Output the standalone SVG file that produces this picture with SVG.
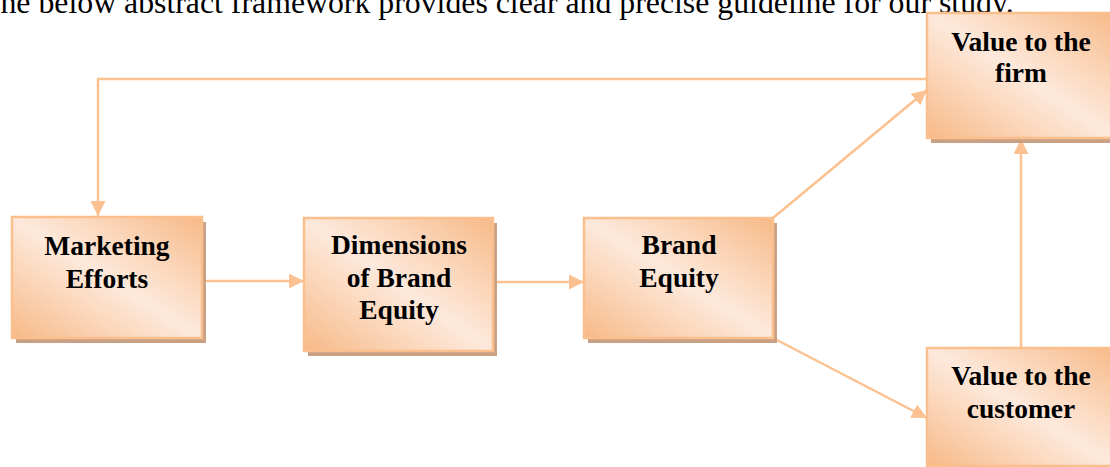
<svg xmlns="http://www.w3.org/2000/svg" width="1110" height="467" viewBox="0 0 1110 467">
  <style>
    .box { fill: url(#peach); stroke: #fbbf8e; stroke-width: 2.5; }
    .shadow { fill: #c9a083; }
    .label { font-family: "Liberation Serif", "Times New Roman", serif; font-weight: bold; font-size: 27.5px; fill: #000; text-anchor: middle; }
    .intro { font-family: "Liberation Serif", "Times New Roman", serif; font-size: 31.8px; fill: #000; }
    .link { fill: none; stroke: #fbc190; stroke-width: 2.5; marker-end: url(#head); }
  </style>
  <defs>
    <linearGradient id="peach" x1="1" y1="0" x2="0" y2="1">
      <stop offset="0" stop-color="#f7b987"/>
      <stop offset="0.3" stop-color="#fbd7bb"/>
      <stop offset="0.5" stop-color="#fde9dc"/>
      <stop offset="0.7" stop-color="#fbd7bb"/>
      <stop offset="1" stop-color="#f7b987"/>
    </linearGradient>
    <marker id="head" markerUnits="userSpaceOnUse" markerWidth="15" markerHeight="15" refX="15" refY="7.5" orient="auto">
      <path d="M0,0 L15,7.5 L0,15 z" fill="#fbc190"/>
    </marker>
  </defs>

  <text class="intro" x="-19" y="13">The below abstract framework provides clear and precise guideline for our study.</text>

  <g id="connectors">
    <line class="link" x1="202" y1="281" x2="304" y2="281"/>
    <line class="link" x1="493" y1="282" x2="584" y2="282"/>
    <line class="link" x1="773" y1="218" x2="927" y2="90"/>
    <line class="link" x1="773" y1="338" x2="927" y2="418"/>
    <line class="link" x1="1021" y1="348" x2="1021" y2="139"/>
    <polyline class="link" points="927,79 98,79 98,216"/>
  </g>

  <g id="marketing-efforts">
    <rect class="shadow" x="16" y="222" width="190" height="121"/>
    <rect class="box" x="12" y="217" width="190" height="121"/>
    <text class="label" x="107" y="255">Marketing</text>
    <text class="label" x="107" y="288">Efforts</text>
  </g>

  <g id="dimensions-of-brand-equity">
    <rect class="shadow" x="308" y="223" width="189" height="133"/>
    <rect class="box" x="304" y="218" width="189" height="133"/>
    <text class="label" x="399" y="254">Dimensions</text>
    <text class="label" x="399" y="287">of Brand</text>
    <text class="label" x="399" y="319">Equity</text>
  </g>

  <g id="brand-equity">
    <rect class="shadow" x="588" y="223" width="189" height="120"/>
    <rect class="box" x="584" y="218" width="189" height="120"/>
    <text class="label" x="679" y="254">Brand</text>
    <text class="label" x="679" y="287">Equity</text>
  </g>

  <g id="value-to-firm">
    <rect class="shadow" x="931" y="18" width="189" height="125"/>
    <rect class="box" x="927" y="13" width="189" height="125"/>
    <text class="label" x="1021" y="51">Value to the</text>
    <text class="label" x="1021" y="82">firm</text>
  </g>

  <g id="value-to-customer">
    <rect class="shadow" x="931" y="353" width="189" height="118"/>
    <rect class="box" x="927" y="348" width="189" height="118"/>
    <text class="label" x="1021" y="385">Value to the</text>
    <text class="label" x="1021" y="418">customer</text>
  </g>
</svg>
